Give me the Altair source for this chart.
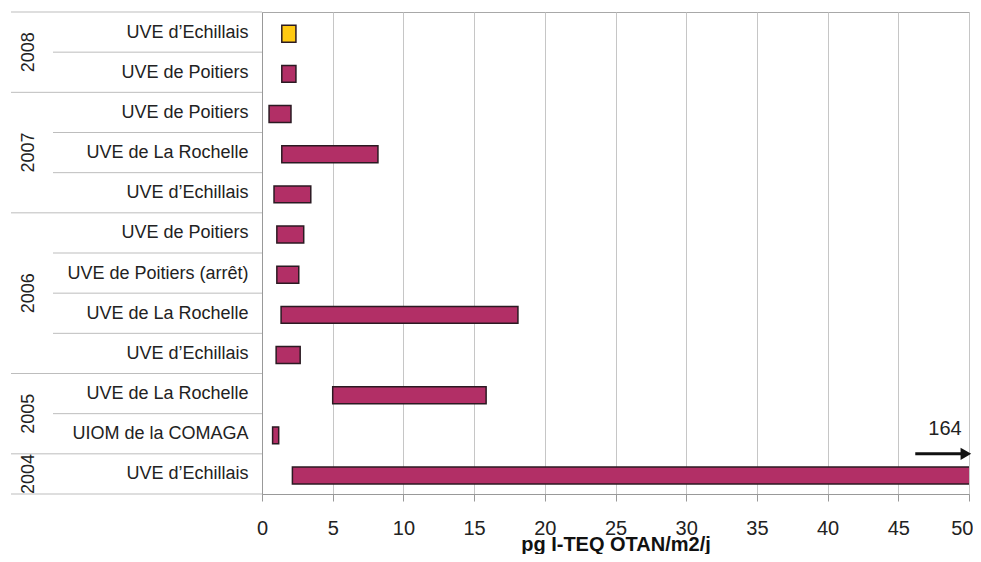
import altair as alt
import pandas as pd

# ---- data (top row first) ----
years = ["2008", "2008", "2007", "2007", "2007", "2006", "2006", "2006", "2006",
         "2005", "2005", "2004"]
sites = ["UVE d’Echillais", "UVE de Poitiers", "UVE de Poitiers", "UVE de La Rochelle",
         "UVE d’Echillais", "UVE de Poitiers", "UVE de Poitiers (arrêt)",
         "UVE de La Rochelle", "UVE d’Echillais", "UVE de La Rochelle",
         "UIOM de la COMAGA", "UVE d’Echillais"]
low = [1.4, 1.4, 0.5, 1.4, 0.85, 1.05, 1.05, 1.35, 1.0, 5.0, 0.75, 2.15]
high = [2.4, 2.4, 2.05, 8.2, 3.45, 2.95, 2.6, 18.1, 2.7, 15.85, 1.18, 164]
x_ticks = [0, 5, 10, 15, 20, 25, 30, 35, 40, 45, 50]
overflow_label = "164"

MAGENTA = "#B22F66"
YELLOW = "#FFC912"
FONT = "Liberation Sans"

n = len(sites)
df = pd.DataFrame({"i": list(range(n)), "year": years, "site": sites,
                   "low": low, "high": high})
df["yc"] = df["i"] + 0.54
df["y1"] = df["yc"] - 0.21
df["y2"] = df["yc"] + 0.21

# group boundaries and centres
groups = []
start = 0
for k in range(1, n + 1):
    if k == n or years[k] != years[start]:
        groups.append((years[start], start, k))
        start = k
df_years = pd.DataFrame({"year": [g[0] for g in groups],
                         "yc": [(g[1] + g[2]) / 2 for g in groups]})
group_b = sorted({g[1] for g in groups} | {g[2] for g in groups})
inner_b = [k for k in range(1, n) if k not in group_b]
df_gb = pd.DataFrame({"b": group_b})
df_ib = pd.DataFrame({"b": inner_b})

label_arr = "[" + ",".join("'" + s + "'" for s in sites) + "]"

yscale = alt.Scale(domain=[0, n], reverse=True, nice=False, zero=False)
xscale = alt.Scale(domain=[0, 50], nice=False)

yaxis = alt.Axis(values=[k + 0.5 for k in range(n)],
                 labelExpr=label_arr + "[floor(datum.value)]",
                 ticks=False, grid=False, title=None, domain=True,
                 labelFontSize=18, labelPadding=14, labelColor="#222",
                 labelOverlap=False, labelBound=False, labelLimit=300)
xaxis = alt.Axis(values=x_ticks, title="pg I-TEQ OTAN/m2/j",
                 titleFontSize=20, titleFontWeight="bold", titleColor="#111",
                 titlePadding=-4, labelFontSize=20, labelPadding=17,
                 tickSize=7, grid=True, labelFlush=False, labelOverlap=False,
                 labelAlign=alt.condition("datum.value == 50",
                                          alt.value("right"), alt.value("center")),
                 labelOffset=alt.condition("datum.value == 50",
                                           alt.value(4), alt.value(0)))

sep_group = alt.Chart(df_gb).mark_rule(color="#bdbdbd", strokeWidth=1).encode(
    y=alt.Y("b:Q", scale=yscale, axis=yaxis),
    x=alt.value(0), x2=alt.value(-251),
)
sep_inner = alt.Chart(df_ib).mark_rule(color="#bdbdbd", strokeWidth=1).encode(
    y=alt.Y("b:Q", scale=yscale, axis=yaxis),
    x=alt.value(0), x2=alt.value(-209),
)

bars = alt.Chart(df).mark_rect(clip=True, stroke="#2b1a22", strokeWidth=1.5).encode(
    x=alt.X("low:Q", scale=xscale, axis=xaxis),
    x2="high:Q",
    y=alt.Y("y1:Q", scale=yscale, axis=yaxis),
    y2="y2:Q",
    fill=alt.condition(alt.datum.i == 0, alt.value(YELLOW), alt.value(MAGENTA)),
)

year_text = alt.Chart(df_years).mark_text(
    angle=270, fontSize=18, align="center", baseline="middle", color="#222"
).encode(
    y=alt.Y("yc:Q", scale=yscale, axis=yaxis),
    x=alt.value(-233),
    text="year:N",
)

df_arrow = pd.DataFrame({"x": [46.2], "x2": [49.6], "y": [n - 1.0],
                         "tx": [48.3], "ty": [n - 1.63], "tip": [49.78],
                         "label": [overflow_label]})
arrow_line = alt.Chart(df_arrow).mark_rule(color="#111", strokeWidth=3).encode(
    x=alt.X("x:Q", scale=xscale, axis=xaxis), x2="x2:Q",
    y=alt.Y("y:Q", scale=yscale, axis=yaxis),
)
arrow_head = alt.Chart(df_arrow).mark_point(
    shape="triangle-right", filled=True, size=150, color="#111", opacity=1
).encode(
    x=alt.X("tip:Q", scale=xscale, axis=xaxis),
    y=alt.Y("y:Q", scale=yscale, axis=yaxis),
)
arrow_text = alt.Chart(df_arrow).mark_text(fontSize=20, color="#222").encode(
    x=alt.X("tx:Q", scale=xscale, axis=xaxis),
    y=alt.Y("ty:Q", scale=yscale, axis=yaxis),
    text="label:N",
)

chart = alt.layer(
    bars, sep_group, sep_inner, year_text, arrow_line, arrow_head, arrow_text
).properties(
    width=707, height=482,
    padding={"left": 254, "top": 4, "right": 4, "bottom": 60},
    autosize="none",
).configure_view(
    stroke="#a8a8a8"
).configure_axis(
    domainColor="#999999", tickColor="#999999", gridColor="#c6c6c6",
    labelFont=FONT, titleFont=FONT, labelColor="#222",
).configure_text(font=FONT)

chart.save("out.html", embed_options={"renderer": "svg", "actions": False})
